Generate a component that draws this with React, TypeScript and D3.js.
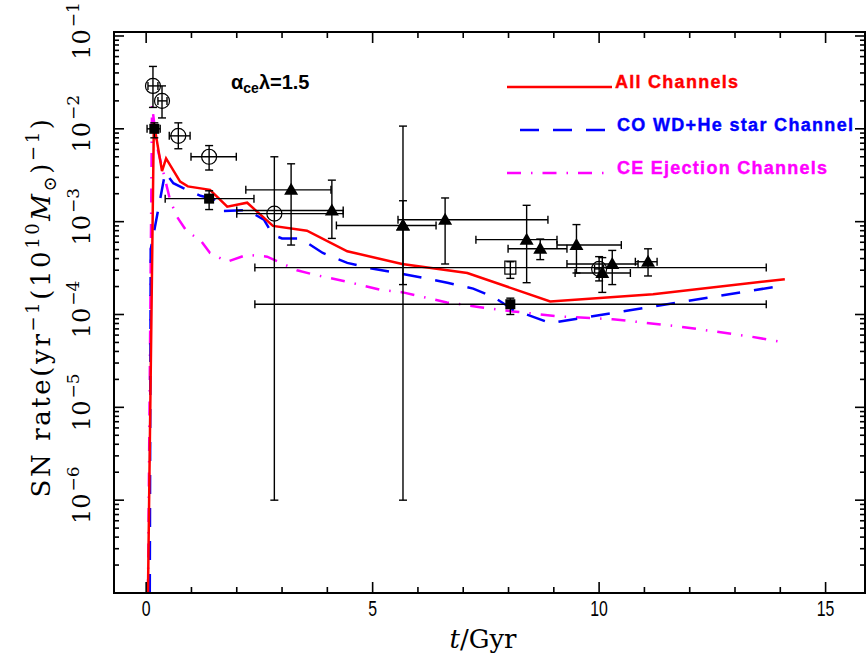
import React from 'react';
import * as d3 from 'd3';

const W = 868, H = 661;
const M = { left: 114, top: 32, right: 865, bottom: 593 };

// Curves (t in Gyr, rate)
const allT = [0.04, 0.17, 0.35, 0.44, 0.75, 0.92, 1.41, 1.79, 2.23, 2.80, 3.55, 4.44, 5.65, 7.09, 8.92, 11.19, 14.1];
const allV = [1e-7, 0.0116, 3.5e-3, 4.8e-3, 2.7e-3, 2.4e-3, 2.2e-3, 1.45e-3, 1.6e-3, 9.0e-4, 8.0e-4, 4.8e-4, 3.5e-4, 2.8e-4, 1.38e-4, 1.65e-4, 2.4e-4];

const coT = [0.08, 0.1, 0.42, 0.6, 0.82, 1.2, 1.49, 1.71, 2.23, 2.6, 2.8, 3.0, 3.4, 3.9, 4.44, 4.88, 5.9, 6.65, 7.22, 7.66, 8.1, 8.92, 14.06];
const coV = [1e-7, 5e-4, 3.4e-3, 2.6e-3, 2.3e-3, 1.9e-3, 1.75e-3, 1.3e-3, 1.33e-3, 1.05e-3, 7.2e-4, 6.6e-4, 6.6e-4, 4.6e-4, 3.6e-4, 3.2e-4, 2.6e-4, 2.2e-4, 1.9e-4, 1.55e-4, 1.13e-4, 8.1e-5, 2.05e-4];

const ceT = [0.04, 0.13, 0.24, 0.35, 0.53, 0.68, 0.9, 1.19, 1.41, 1.79, 2.23, 2.67, 3.33, 3.69, 4.44, 5.17, 5.67, 6.64, 7.37, 8.1, 9.14, 10.3, 11.79, 13.33, 14.1];
const ceV = [1e-7, 0.018, 6.4e-3, 3.9e-3, 1.7e-3, 1.13e-3, 7.8e-4, 6.4e-4, 4.6e-4, 3.7e-4, 4.4e-4, 4.2e-4, 3.0e-4, 2.7e-4, 2.25e-4, 1.85e-4, 1.73e-4, 1.35e-4, 1.2e-4, 1.08e-4, 9.5e-5, 8.9e-5, 7.4e-5, 5.8e-5, 5.0e-5];

// Observations: [t, v, tlo, thi, vlo, vhi]
const openCircles = [
  [0.15, 0.029, 0.04, 0.26, 0.017, 0.047],
  [0.35, 0.020, 0.26, 0.46, 0.0131, 0.029],
  [0.71, 8.4e-3, 0.51, 0.97, 6.1e-3, 0.0116],
  [1.39, 5.0e-3, 0.99, 1.99, 3.6e-3, 6.6e-3],
  [2.83, 1.22e-3, 2.0, 4.35, 1e-6, 5.0e-3],
  [10.0, 3.1e-4, 9.9, 10.1, 2.3e-4, 4.2e-4],
];
const filledSquares = [
  [0.18, 0.0100, 0.02, 0.31, 8.0e-3, 0.0116],
  [1.39, 1.77e-3, 0.42, 2.38, 1.35e-3, 2.15e-3],
  [8.04, 1.29e-4, 2.4, 13.69, 1.0e-4, 1.5e-4],
];
const openSquares = [
  [8.04, 3.2e-4, 2.4, 13.69, 2.45e-4, 3.7e-4],
];
const triangles = [
  [3.2, 2.2e-3, 2.2, 4.08, 5.6e-4, 4.2e-3],
  [4.1, 1.32e-3, 2.0, 4.35, 6.6e-4, 2.8e-3],
  [5.67, 9.1e-4, 4.2, 6.4, 2.1e-4, 1.68e-3],
  [5.67, 9.1e-4, 5.67, 5.67, 1e-6, 0.0107],
  [6.6, 1.05e-3, 5.56, 8.87, 3.5e-4, 1.8e-3],
  [8.4, 6.4e-4, 7.28, 9.07, 2.2e-4, 1.5e-3],
  [8.7, 5.1e-4, 7.99, 9.29, 3.9e-4, 6.5e-4],
  [9.5, 5.6e-4, 9.07, 10.49, 2.8e-4, 9.3e-4],
  [10.07, 2.8e-4, 9.47, 10.69, 1.73e-4, 4.1e-4],
  [10.29, 3.5e-4, 9.29, 10.86, 2.1e-4, 4.9e-4],
  [11.08, 3.7e-4, 10.8, 11.28, 2.6e-4, 5.1e-4],
];

const xMajor = [0, 5, 10, 15];
const yExps = [-6, -5, -4, -3, -2, -1];

const legendItems = [
  { label: 'All Channels', color: '#ff0000', dash: 'none', x1: 507, x2: 612, y: 87, tx: 615, tw: 123 },
  { label: 'CO WD+He star Channel', color: '#0000ff', dash: '19 14', x1: 520, x2: 606, y: 130, tx: 617, tw: 236 },
  { label: 'CE Ejection Channels', color: '#ff00ff', dash: '14 10 1.5 10', x1: 507, x2: 613, y: 173, tx: 617, tw: 210 },
];

const x = d3.scaleLinear().domain([-0.71, 15.87]).range([M.left, M.right]);
const y = d3.scaleLog().domain([1e-7, Math.pow(10, -1 + 4 / 93)]).range([M.bottom, M.top]);

const line = d3.line<[number, number]>().x(d => x(d[0])).y(d => y(d[1]));
const zip = (a: number[], b: number[]) => a.map((t, i) => [t, b[i]] as [number, number]);

function ErrBar({ p }: { p: number[] }) {
  const [t, v, tlo, thi, vlo, vhi] = p;
  const cx = x(t), cy = y(v);
  const c = 4;
  const els: any[] = [];
  if (tlo !== thi) {
    els.push(<line key="h" x1={x(tlo)} x2={x(thi)} y1={cy} y2={cy} />);
    els.push(<line key="hl" x1={x(tlo)} x2={x(tlo)} y1={cy - c} y2={cy + c} />);
    els.push(<line key="hr" x1={x(thi)} x2={x(thi)} y1={cy - c} y2={cy + c} />);
  }
  els.push(<line key="v" x1={cx} x2={cx} y1={y(vlo)} y2={y(vhi)} />);
  els.push(<line key="vl" x1={cx - c} x2={cx + c} y1={y(vlo)} y2={y(vlo)} />);
  els.push(<line key="vh" x1={cx - c} x2={cx + c} y1={y(vhi)} y2={y(vhi)} />);
  return <g stroke="#000" strokeWidth={1.4}>{els}</g>;
}

export default function App() {
  const xMinor = d3.range(0, 16).filter(v => !xMajor.includes(v));
  const yMinor: number[] = [];
  for (let e = -7; e <= -2; e++) for (let k = 2; k <= 9; k++) {
    const v = k * Math.pow(10, e);
    if (v <= y.domain()[1]) yMinor.push(v);
  }
  const yMajor = [-7, ...yExps].map(e => Math.pow(10, e));
  const serif = "'DejaVu Serif', serif";
  const sans = "'Liberation Sans', Arial, sans-serif";

  return (
    <svg width={W} height={H} style={{ position: 'absolute', left: 0, top: 0, background: '#fff' }}>
      <rect x={0} y={0} width={W} height={H} fill="#fff" />
      <defs>
        <clipPath id="plot"><rect x={M.left} y={M.top} width={M.right - M.left} height={M.bottom - M.top} /></clipPath>
      </defs>

      {/* curves */}
      <g clipPath="url(#plot)" fill="none" strokeWidth={2.5}>
        <path d={line(zip(ceT, ceV)) || ''} stroke="#ff00ff" strokeDasharray="14 10 1.5 10" />
        <path d={line(zip(coT, coV)) || ''} stroke="#0000ff" strokeDasharray="19 14" />
        <path d={line(zip(allT, allV)) || ''} stroke="#ff0000" />
      </g>

      {/* data */}
      <g clipPath="url(#plot)">
        {[...openCircles, ...filledSquares, ...openSquares, ...triangles].map((p, i) => <ErrBar key={i} p={p} />)}
        {openCircles.map((p, i) => <circle key={'c' + i} cx={x(p[0])} cy={y(p[1])} r={7.5} fill="none" stroke="#000" strokeWidth={1.2} />)}
        {filledSquares.map((p, i) => <rect key={'s' + i} x={x(p[0]) - 5} y={y(p[1]) - 5} width={10} height={10} fill="#000" />)}
        {openSquares.map((p, i) => <rect key={'o' + i} x={x(p[0]) - 5.5} y={y(p[1]) - 6.5} width={11} height={13} fill="none" stroke="#000" strokeWidth={1.2} />)}
        {triangles.map((p, i) => {
          const cx = x(p[0]), cy = y(p[1]);
          return <path key={'t' + i} d={`M${cx},${cy - 7}L${cx + 7},${cy + 5}L${cx - 7},${cy + 5}Z`} fill="#000" />;
        })}
      </g>

      {/* frame & ticks */}
      <g stroke="#000" strokeWidth={1.6}>
        {xMajor.map(v => <g key={'xm' + v}>
          <line x1={x(v)} x2={x(v)} y1={M.bottom} y2={M.bottom - 11} />
          <line x1={x(v)} x2={x(v)} y1={M.top} y2={M.top + 11} />
        </g>)}
        {xMinor.map(v => <g key={'xn' + v}>
          <line x1={x(v)} x2={x(v)} y1={M.bottom} y2={M.bottom - 6} />
          <line x1={x(v)} x2={x(v)} y1={M.top} y2={M.top + 6} />
        </g>)}
        {yMajor.map((v, i) => <g key={'ym' + i}>
          <line x1={M.left} x2={M.left + 10} y1={y(v)} y2={y(v)} />
          <line x1={M.right} x2={M.right - 10} y1={y(v)} y2={y(v)} />
        </g>)}
        {yMinor.map((v, i) => <g key={'yn' + i}>
          <line x1={M.left} x2={M.left + 5} y1={y(v)} y2={y(v)} />
          <line x1={M.right} x2={M.right - 5} y1={y(v)} y2={y(v)} />
        </g>)}
      </g>
      <rect x={M.left} y={M.top} width={M.right - M.left} height={M.bottom - M.top} fill="none" stroke="#000" strokeWidth={2} />

      {/* x tick labels */}
      {xMajor.map(v => (
        <g key={'xl' + v} transform={`translate(${x(v)},${616}) scale(0.72,1)`}>
          <text textAnchor="middle" fontFamily={sans} fontSize={22} fill="#000">{v}</text>
        </g>
      ))}
      {/* y tick labels */}
      {yExps.map(e => (
        <text key={'yl' + e} transform={`translate(90,${y(Math.pow(10, e)) - 5}) rotate(-90)`} textAnchor="middle" fontFamily={serif} fontSize={24} fill="#000">
          10<tspan dy={-11} fontSize={17} dx={2}>{'\u2212' + Math.abs(e)}</tspan>
        </text>
      ))}

      {/* axis titles */}
      <text x={483} y={648} textAnchor="middle" fontFamily={serif} fontSize={26} fill="#000">
        <tspan fontStyle="italic">t</tspan>/Gyr
      </text>
      <text transform="translate(50,307) rotate(-90)" textAnchor="middle" fontFamily={serif} fontSize={26} letterSpacing={2.6} fill="#000">
        SN rate(yr<tspan dy={-11} fontSize={18}>{'\u22121'}</tspan><tspan dy={11}>(10</tspan><tspan dy={-11} fontSize={18}>10</tspan><tspan dy={11} fontStyle="italic">M</tspan><tspan dy={6} fontSize={18}>{'\u2299'}</tspan><tspan dy={-6}>)</tspan><tspan dy={-11} fontSize={18}>{'\u22121'}</tspan><tspan dy={11}>)</tspan>
      </text>

      {/* annotation */}
      <text x={231} y={89} fontFamily={sans} fontWeight="bold" fontSize={20} fill="#000">
        α<tspan dy={4} fontSize={14}>ce</tspan><tspan dy={-4}>λ=1.5</tspan>
      </text>

      {/* legend */}
      {legendItems.map(l => (
        <g key={l.label}>
          <line x1={l.x1} x2={l.x2} y1={l.y} y2={l.y} stroke={l.color} strokeWidth={2.5} strokeDasharray={l.dash} />
          <text x={l.tx} y={l.y + 1} fontFamily={sans} fontWeight="bold" fontSize={18} fill={l.color} stroke={l.color} strokeWidth={0.4} textLength={l.tw} lengthAdjust="spacing">{l.label}</text>
        </g>
      ))}
    </svg>
  );
}
